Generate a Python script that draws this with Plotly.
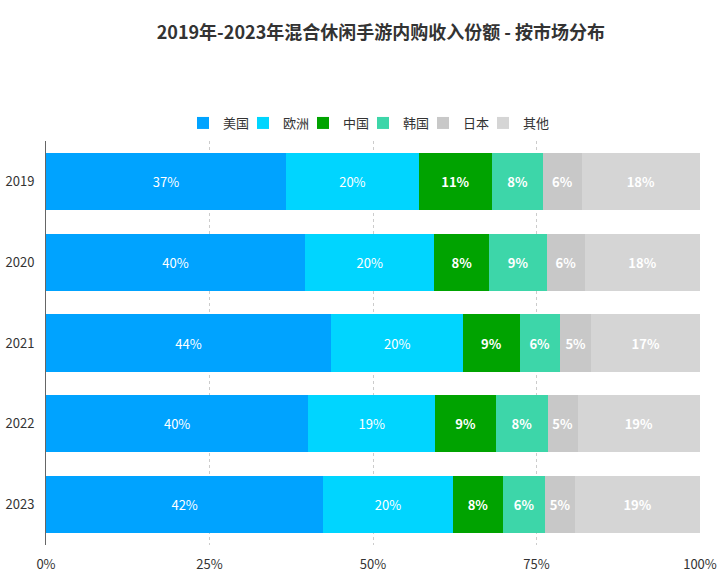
import plotly.graph_objects as go

years = ["2019", "2020", "2021", "2022", "2023"]
markets = ["美国", "欧洲", "中国", "韩国", "日本", "其他"]
us = [36.7, 39.6, 43.6, 40.1, 42.4]
eu = [20.3, 19.8, 20.2, 19.4, 19.8]
cn = [11.2, 8.4, 8.6, 9.3, 7.7]
kr = [7.8, 8.8, 6.2, 7.9, 6.4]
jp = [5.9, 5.8, 4.8, 4.6, 4.6]
other = [18.1, 17.6, 16.6, 18.7, 19.1]
x_ticks = [0, 25, 50, 75, 100]
x_ticklabels = ["0%", "25%", "50%", "75%", "100%"]

series = [us, eu, cn, kr, jp, other]
colors = ["#00A3FF", "#00D5FF", "#00A300", "#3DD6A9", "#C8C8C8", "#D5D5D5"]
bold = [False, False, True, True, True, True]

FONT = "Noto Sans CJK SC"

fig = go.Figure()
for name, vals, col, b in zip(markets, series, colors, bold):
    tmpl = "<b>%{x:.0f}%</b>" if b else "%{x:.0f}%"
    fig.add_trace(go.Bar(
        y=years, x=vals, name=name, orientation="h",
        marker=dict(color=col, line=dict(width=0)),
        texttemplate=tmpl, textposition="inside", insidetextanchor="middle",
        textfont=dict(color="white", size=13, family=FONT),
        constraintext="none", hoverinfo="skip",
    ))

# invisible spacer entry so the last legend label is not clipped
fig.add_trace(go.Bar(
    y=years[:1], x=[0], name=" ", orientation="h",
    marker=dict(color="rgba(0,0,0,0)", line=dict(width=0)),
    texttemplate="", hoverinfo="skip", showlegend=True,
))

fig.update_layout(
    barmode="stack",
    bargap=0.29,
    width=720, height=574,
    margin=dict(l=46, r=20, t=141, b=29, autoexpand=False),
    paper_bgcolor="white", plot_bgcolor="white",
    font=dict(family=FONT, size=13, color="#333333"),
    title=dict(
        text="<b>2019年-2023年混合休闲手游内购收入份额 - 按市场分布</b>",
        x=0.529, xref="container", xanchor="center",
        y=1 - 33 / 574, yref="container", yanchor="middle",
        font=dict(family=FONT, size=18, color="#333333"),
    ),
    legend=dict(
        orientation="h", x=(183 - 46) / 654, xanchor="left", xref="paper",
        y=1 + 18 / 404, yref="paper", yanchor="middle",
        font=dict(family=FONT, size=13, color="#333333"),
        traceorder="normal",
        itemwidth=30,
        entrywidth=15, entrywidthmode="pixels",
    ),
    showlegend=True,
)
fig.update_xaxes(
    range=[0, 100], tickvals=x_ticks, ticktext=x_ticklabels,
    showgrid=True, gridcolor="#CCCCCC", griddash="dot", gridwidth=1,
    zeroline=False, showline=False, automargin=False,
    ticks="outside", ticklen=7, tickcolor="rgba(0,0,0,0)",
    tickfont=dict(family=FONT, size=13, color="#333333"),
)
fig.update_yaxes(
    autorange="reversed", showgrid=False, zeroline=False,
    showline=True, linecolor="#666666", linewidth=1, automargin=False,
    ticks="outside", ticklen=8, tickcolor="rgba(0,0,0,0)",
    tickfont=dict(family=FONT, size=13, color="#333333"),
)

fig.write_html(
    "out.html",
    config={"displayModeBar": False},
    post_script="document.body.style.margin='0';document.body.style.overflow='hidden';",
)
